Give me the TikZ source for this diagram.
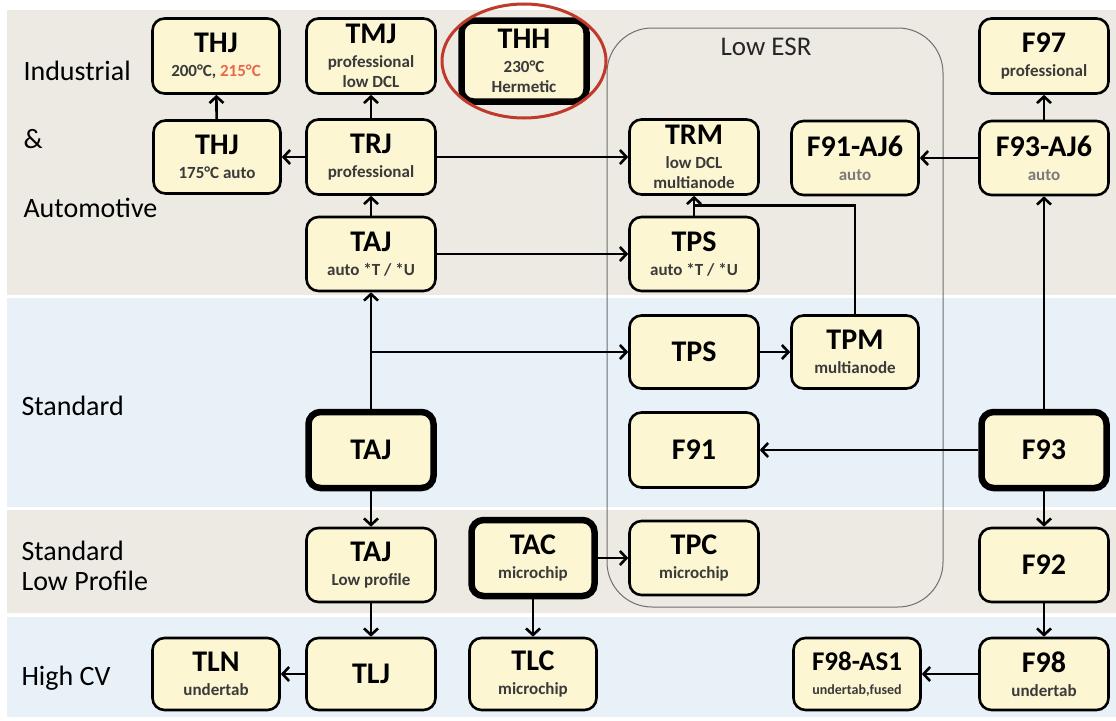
\documentclass[tikz,border=0pt]{standalone}
\usepackage{fontspec}
\setmainfont{Carlito}
\usetikzlibrary{arrows.meta,calc}
\definecolor{bandbeige}{HTML}{EDEAE3}
\definecolor{bandblue}{HTML}{E8F1F8}
\definecolor{boxfill}{HTML}{FCF6D2}
\definecolor{subgray}{HTML}{3A3A3A}
\definecolor{autogray}{HTML}{7A7A7A}
\definecolor{hot}{HTML}{E8694A}
\definecolor{ringred}{HTML}{C0392B}
\definecolor{esrgray}{HTML}{6E6E6E}
\newcommand{\ttlf}{\fontsize{30}{32}\selectfont\bfseries\color{black}}
\newcommand{\subf}{\fontsize{17}{21}\selectfont\bfseries}
\newcommand{\cname}[2]{{\ttlf #1}\\[3pt]#2}
\tikzset{
  box/.style={draw=black,line width=2.6pt,rounded corners=12pt,fill=boxfill,
    inner sep=1pt,align=center,font=\subf,text=subgray,
    minimum width=129pt,minimum height=74pt},                 % product box
  heavy/.style={box,line width=6.5pt,minimum width=125pt,minimum height=76pt}, % base series
  sz/.style 2 args={minimum width=#1pt,minimum height=#2pt},
  arr/.style={-{Straight Barb[length=6.5pt,width=14pt]},line width=2.6pt},
  wire/.style={line width=2.6pt},
  lbl/.style={anchor=base west,font=\fontsize{28}{32}\selectfont,text=black},
  esr/.style={draw=esrgray,line width=1pt,rounded corners=45pt},
  ring/.style={draw=ringred,line width=3pt},
}

\begin{document}
\begin{tikzpicture}[x=1pt,y=-1pt]
  \useasboundingbox (0,0) rectangle (1116,720);
  % rows
  \foreach \ya/\yb/\c in {10/295/bandbeige,298/507/bandblue,510/613/bandbeige,617/717/bandblue}
    \fill[\c] (7,\ya) rectangle (1116,\yb);
  \node[lbl] (rInd) at (20,80) {Industrial};
  \node[lbl] (rAmp) at (20,148) {\&};
  \node[lbl] (rAuto) at (20,217) {Automotive};
  \node[lbl] (rStd) at (18,415) {Standard};
  \node[lbl] (rLowA) at (18,560) {Standard};
  \node[lbl] (rLowB) at (18,590) {Low Profile};
  \node[lbl] (rHigh) at (18,685) {High CV};
  % low ESR group
  \draw[esr] (607,28) rectangle (943,607);
  \node[anchor=base,font=\fontsize{27}{30}\selectfont,text=black!85] (esrlbl) at (766,55) {Low ESR};
  % tantalum, left part
  \node[box,sz={127}{75}] (thjA) at (216,56) {\cname{THJ}{200°C, \textcolor{hot}{215°C}}};
  \node[box,sz={127}{73}] (thjB) at (217,157) {\cname{THJ}{175°C auto}};
  \node[box,sz={127}{72}] (tln) at (216,674) {\cname{TLN}{undertab}};
  \node[box,sz={129}{75}] (tmj) at (371,56) {\cname{TMJ}{professional\\[-1pt]low DCL}};
  \node[box,sz={129}{75}] (trj) at (371,157) {\cname{TRJ}{professional}};
  \node[box] (tajA) at (371,254) {\cname{TAJ}{auto *T / *U}};
  \node[heavy] (tajS) at (371,450) {\ttlf TAJ};
  \node[box] (tajL) at (371,565) {\cname{TAJ}{Low profile}};
  \node[box,sz={129}{72}] (tlj) at (371,674) {\ttlf TLJ};
  \node[heavy,sz={125}{81}] (thh) at (524,61) {\cname{THH}{230°C\\[-1pt]Hermetic}};
  \node[heavy,sz={123}{76}] (tac) at (533,558) {\cname{TAC}{microchip}};
  \node[box,sz={127}{72}] (tlc) at (533,674) {\cname{TLC}{microchip}};
  % low ESR members
  \node[box,sz={129}{75}] (trm) at (694,157) {\cname{TRM}{low DCL\\[-1pt]multianode}};
  \node[box] (tpsA) at (694,254) {\cname{TPS}{auto *T / *U}};
  \node[box,sz={129}{73}] (tps) at (694,352) {\ttlf TPS};
  \node[box,sz={129}{75}] (f91) at (694,450) {\ttlf F91};
  \node[box] (tpc) at (694,558) {\cname{TPC}{microchip}};
  \node[box,sz={127}{74}] (f91aj) at (855,158) {\cname{F91-AJ6}{\textcolor{autogray}{auto}}};
  \node[box,sz={127}{73}] (tpm) at (855,352) {\cname{TPM}{multianode}};
  % niobium oxide
  \node[box,sz={127}{72}] (f98as) at (857,674) {{\fontsize{27}{30}\selectfont\bfseries\color{black}F98-AS1}\\[3pt]{\fontsize{14}{18}\selectfont undertab,fused}};
  \node[box,sz={129}{75}] (f97) at (1044,56) {\cname{F97}{professional}};
  \node[box] (f93aj) at (1044,158) {\cname{F93-AJ6}{\textcolor{autogray}{auto}}};
  \node[heavy] (f93) at (1044,450) {\ttlf F93};
  \node[box] (f92) at (1044,565) {\ttlf F92};
  \node[box,sz={129}{72}] (f98) at (1044,674) {\cname{F98}{undertab}};
  % links
  \draw[arr] (thjB) -- (thjA);
  \draw[arr] (trj) -- (tmj);
  \draw[arr] (trj) -- (thjB);
  \draw[arr] (trj) -- (trm);
  \draw[arr] (tajA) -- (trj);
  \draw[arr] (tajA) -- (tpsA);
  \draw[arr] (tajS) -- (tajA);
  \coordinate (split) at (tajS.north |- tps.west);
  \draw[arr] (split) -- (tps);
  \draw[arr] (tps) -- (tpm);
  \draw[arr] (tpsA) -- (trm);
  \coordinate (merge) at ($(trm.south)!.5!(tpsA.north)$);
  \draw[wire] (tpm.north) |- (merge);
  \draw[arr] (tajS) -- (tajL);
  \draw[arr] (tajL) -- (tlj);
  \draw[arr] (tlj) -- (tln);
  \draw[arr] (tac) -- (tpc);
  \draw[arr] (tac) -- (tlc);
  \draw[arr] (f93) -- (f93aj);
  \draw[arr] (f93aj) -- (f97);
  \draw[arr] (f93aj) -- (f91aj);
  \draw[arr] (f93) -- (f91);
  \draw[arr] (f93) -- (f92);
  \draw[arr] (f92) -- (f98);
  \draw[arr] (f98) -- (f98as);
  % highlight
  \draw[ring] (thh.center) ellipse [x radius=82pt,y radius=57pt];
\end{tikzpicture}
\end{document}
